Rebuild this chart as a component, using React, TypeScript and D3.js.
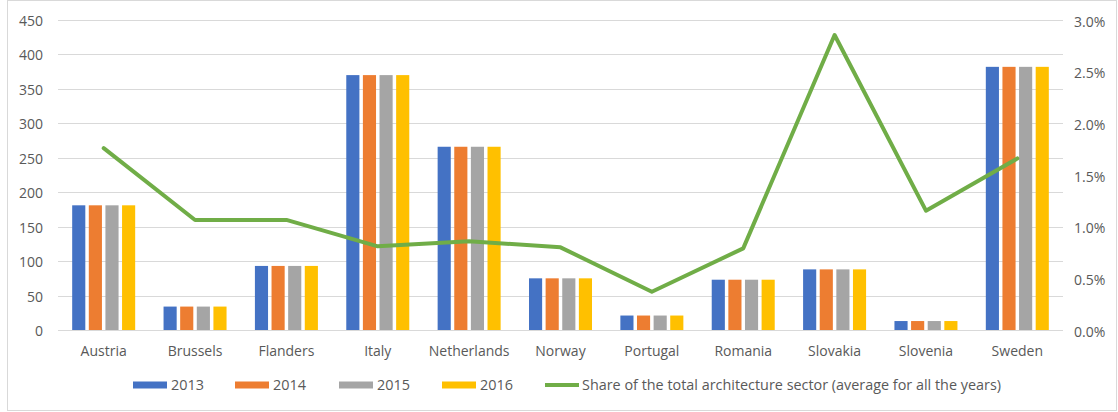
import React from "react";
import * as d3 from "d3";

const categories = ["Austria", "Brussels", "Flanders", "Italy", "Netherlands", "Norway", "Portugal", "Romania", "Slovakia", "Slovenia", "Sweden"];
const years = ["2013", "2014", "2015", "2016"];
const values2013 = [181, 34, 93, 370, 266, 75, 21, 73, 88, 13, 382];
const values2014 = [181, 34, 93, 370, 266, 75, 21, 73, 88, 13, 382];
const values2015 = [181, 34, 93, 370, 266, 75, 21, 73, 88, 13, 382];
const values2016 = [181, 34, 93, 370, 266, 75, 21, 73, 88, 13, 382];
const shareValues = [0.0176, 0.01065, 0.01065, 0.0081, 0.0086, 0.008, 0.0037, 0.0079, 0.02855, 0.01155, 0.0166];
const leftTicks = [0, 50, 100, 150, 200, 250, 300, 350, 400, 450];
const rightTicks = [0, 0.005, 0.01, 0.015, 0.02, 0.025, 0.03];
const lineLabel = "Share of the total architecture sector (average for all the years)";

const seriesValues = [values2013, values2014, values2015, values2016];
const colors = ["#4472C4", "#ED7D31", "#A5A5A5", "#FFC000"];
const lineColor = "#70AD47";
const textColor = "#595959";
const font = "'Open Sans', 'DejaVu Sans', sans-serif";

export default function App() {
  const W = 1118, H = 412;
  const left = 58, right = 1063, top = 20, bottom = 330;
  const x = d3.scaleBand<string>().domain(categories).range([left, right]).padding(0);
  const x1 = d3.scaleBand<string>().domain(years).range([-31.5, 31.5]).paddingInner(0.21).paddingOuter(0);
  const yL = d3.scaleLinear().domain([0, 450]).range([bottom, top]);
  const yR = d3.scaleLinear().domain([0, 0.03]).range([bottom, top]);
  const cx = (c: string) => (x(c) as number) + x.bandwidth() / 2;
  const line = d3.line<number>().x((_, i) => cx(categories[i])).y((d) => yR(d));
  const pct = d3.format(".1%");

  const legendItems = [
    { label: "2013", sx: 133, sw: 34, tx: 171, tw: 33 },
    { label: "2014", sx: 235, sw: 34, tx: 273, tw: 33 },
    { label: "2015", sx: 339, sw: 34, tx: 377, tw: 33 },
    { label: "2016", sx: 442, sw: 34, tx: 480, tw: 33 },
  ];

  return (
    <svg width={W} height={H} style={{ position: "absolute", left: 0, top: 0, background: "#fff" }} fontFamily={font}>
      <rect x={7.5} y={0.5} width={1109} height={410} fill="#fff" stroke="#d9d9d9" />
      {leftTicks.map((t) => (
        <g key={t}>
          <line x1={left} x2={right} y1={Math.round(yL(t)) + 0.5} y2={Math.round(yL(t)) + 0.5} stroke="#d9d9d9" strokeWidth={1} />
          <text x={43} y={yL(t) + 0.5} textAnchor="end" dominantBaseline="central" fontSize={14} fill={textColor}>{t}</text>
        </g>
      ))}
      {rightTicks.map((t) => (
        <text key={t} x={1074} y={yR(t) + 1} textAnchor="start" dominantBaseline="central" fontSize={14} fill={textColor}>{pct(t)}</text>
      ))}
      {categories.map((c, i) => (
        <g key={c}>
          {years.map((yr, j) => (
            <rect key={yr} x={cx(c) + (x1(yr) as number)} width={x1.bandwidth()} y={yL(seriesValues[j][i])} height={bottom - yL(seriesValues[j][i])} fill={colors[j]} />
          ))}
          <text x={cx(c)} y={356} textAnchor="middle" fontSize={14} fill={textColor}>{c}</text>
        </g>
      ))}
      <path d={line(shareValues) || ""} fill="none" stroke={lineColor} strokeWidth={4} strokeLinejoin="round" strokeLinecap="round" />
      {legendItems.map((it, j) => (
        <g key={it.label}>
          <rect x={it.sx} y={381.5} width={it.sw} height={7} fill={colors[j]} />
          <text x={it.tx} y={390} fontSize={14} fill={textColor} textLength={it.tw} lengthAdjust="spacingAndGlyphs">{it.label}</text>
        </g>
      ))}
      <line x1={545} x2={579} y1={385} y2={385} stroke={lineColor} strokeWidth={4} />
      <text x={582} y={390} fontSize={14} fill={textColor} textLength={419} lengthAdjust="spacingAndGlyphs">{lineLabel}</text>
    </svg>
  );
}
